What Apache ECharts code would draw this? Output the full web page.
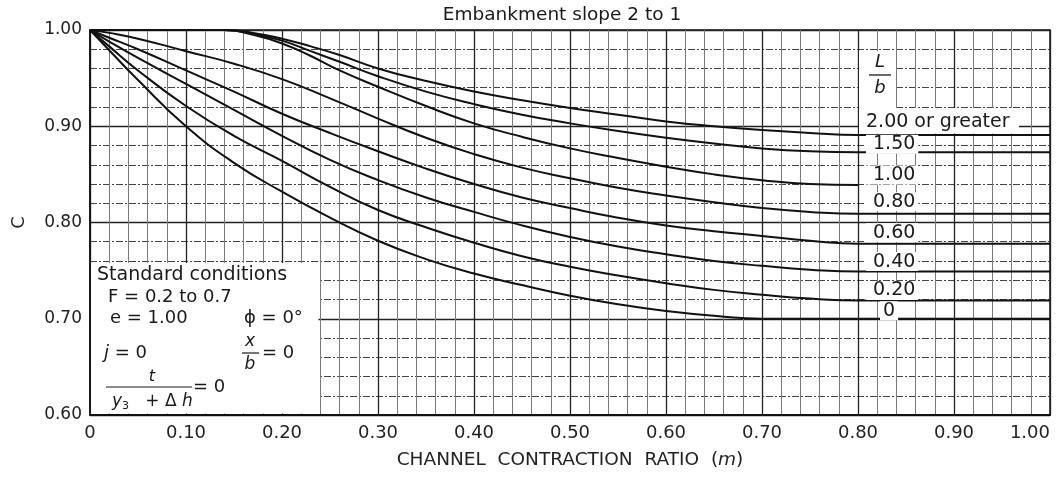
<!DOCTYPE html>
<html><head><meta charset="utf-8">
<script src="https://cdn.jsdelivr.net/npm/echarts@6/dist/echarts.min.js"></script>
<style>html,body{margin:0;padding:0;background:#fff}#c{width:1062px;height:478px}</style>
</head><body><div id="c"></div>
<script>
// ---- data ----
const mLower = [0, 0.02, 0.05, 0.1, 0.15, 0.2, 0.25, 0.3, 0.35, 0.4, 0.45, 0.5, 0.55, 0.6, 0.65, 0.7, 0.75, 0.8, 1.0];
const mUpper = [0, 0.14, 0.17, 0.2, 0.23, 0.26, 0.3, 0.35, 0.4, 0.45, 0.5, 0.55, 0.6, 0.65, 0.7, 0.75, 0.8, 1.0];
const c200 = [1, 1, 0.997, 0.991, 0.983, 0.974, 0.960, 0.947, 0.936, 0.927, 0.919, 0.912, 0.905, 0.900, 0.896, 0.893, 0.891, 0.891];
const c150 = [1, 1, 0.996, 0.989, 0.978, 0.967, 0.952, 0.936, 0.923, 0.912, 0.903, 0.895, 0.888, 0.882, 0.877, 0.874, 0.873, 0.873];
const c100 = [1, 1, 0.995, 0.986, 0.973, 0.958, 0.941, 0.921, 0.903, 0.889, 0.877, 0.867, 0.858, 0.850, 0.844, 0.840, 0.839, null];
const c080 = [1, 0.997, 0.991, 0.978, 0.965, 0.949, 0.929, 0.908, 0.888, 0.871, 0.857, 0.846, 0.836, 0.828, 0.821, 0.815, 0.811, 0.809, 0.809];
const c060 = [1, 0.992, 0.980, 0.958, 0.936, 0.913, 0.893, 0.874, 0.856, 0.840, 0.826, 0.815, 0.805, 0.797, 0.791, 0.786, 0.781, 0.778, 0.778];
const c040 = [1, 0.988, 0.971, 0.944, 0.917, 0.890, 0.865, 0.844, 0.826, 0.811, 0.797, 0.785, 0.775, 0.767, 0.760, 0.755, 0.751, 0.749, 0.749];
const c020 = [1, 0.983, 0.958, 0.921, 0.890, 0.864, 0.837, 0.813, 0.795, 0.779, 0.765, 0.754, 0.745, 0.737, 0.730, 0.725, 0.721, 0.719, 0.719];
const c000 = [1, 0.979, 0.948, 0.900, 0.862, 0.832, 0.805, 0.781, 0.762, 0.747, 0.735, 0.724, 0.715, 0.708, 0.703, 0.700, 0.700, 0.700, 0.700];
const curveNames = ['2.00 or greater', '1.50', '1.00', '0.80', '0.60', '0.40', '0.20', '0'];
const curveX = [mUpper, mUpper, mUpper, mLower, mLower, mLower, mLower, mLower];
const curveY = [c200, c150, c100, c080, c060, c040, c020, c000];
const yTicks = { min: 0.6, max: 1.0, step: 0.1 };
const xTicks = { min: 0, max: 1.0, step: 0.1 };
const titleText = 'Embankment slope 2 to 1';
const xNameMain = 'CHANNEL  CONTRACTION  RATIO  (';
const xNameVar = 'm';
const yName = 'C';

// ---- layout / style ----
const FONT = 'DejaVu Sans';
const labelOffsets = [13, 8, 10, 12, 11, 10, 10, 8];

const series = curveY.map((ys, k) => ({
  type: 'line',
  name: curveNames[k],
  data: curveX[k].map((x, i) => [x, ys[i]]).filter(p => p[1] !== null),
  smooth: 0.5,
  symbol: 'none',
  lineStyle: { color: '#111', width: 2 },
  z: 3,
  silent: true
}));

const option = {
  animation: false,
  backgroundColor: '#fff',
  grid: { left: 90, right: 12, top: 30, bottom: 63, show: true, borderColor: '#111', borderWidth: 1.5 },
  xAxis: {
    type: 'value', min: xTicks.min, max: xTicks.max, interval: xTicks.step,
    name: '{n|' + xNameMain + '}{it|' + xNameVar + '}{n|)}', nameLocation: 'middle', nameGap: 36,
    nameTextStyle: { rich: { n: { fontFamily: FONT, fontSize: 18.5, color: '#222' },
                             it: { fontFamily: FONT, fontSize: 18.5, fontStyle: 'italic', color: '#222' } } },
    axisLine: { show: true, lineStyle: { color: '#111', width: 2 } },
    axisTick: { show: false },
    minorTick: { show: false, splitNumber: 5 },
    axisLabel: { fontFamily: FONT, fontSize: 18, color: '#222', margin: 9, alignMaxLabel: 'right',
      formatter: v => (v === 0 ? '0' : v.toFixed(2)) },
    splitLine: { show: true, lineStyle: { color: '#222', width: 1.3 } },
    minorSplitLine: { show: true, lineStyle: { color: '#7a7a7a', width: 1 } }
  },
  yAxis: {
    type: 'value', min: yTicks.min, max: yTicks.max, interval: yTicks.step,
    name: yName, nameLocation: 'middle', nameGap: 62, nameRotate: 90,
    nameTextStyle: { fontFamily: FONT, fontSize: 18, color: '#222' },
    axisLine: { show: true, lineStyle: { color: '#111', width: 1.5 } },
    axisTick: { show: false },
    minorTick: { show: false, splitNumber: 5 },
    axisLabel: { fontFamily: FONT, fontSize: 17, color: '#222', margin: 8, formatter: v => v.toFixed(2) },
    splitLine: { show: true, lineStyle: { color: '#222', width: 1.3 } },
    minorSplitLine: { show: true, lineStyle: { color: '#444', width: 1, type: [7, 2, 2, 2] } }
  },
  series: series
};

const chart = echarts.init(document.getElementById('c'), null, { renderer: 'canvas' });
chart.setOption(option);

const P = (x, y) => chart.convertToPixel({ gridIndex: 0 }, [x, y]);
const g = [];
const txt = (x, y, text, opt) => g.push({
  type: 'text', x: x, y: y, z: 5,
  style: Object.assign({ text: text, fill: '#1a1a1a', font: '17px "' + FONT + '"', align: 'left', verticalAlign: 'middle' }, opt || {})
});

// title
txt(562, 15, titleText, { align: 'center', font: '18.5px "' + FONT + '"' });

// L/b box
const x08 = P(0.8, 1)[0];
const x084 = P(0.84, 1)[0];
g.push({ type: 'rect', z: 4, shape: { x: x08 + 1, y: P(0, 0.98)[1] + 2, width: x084 - x08 - 2, height: P(0, 0.92)[1] - P(0, 0.98)[1] - 1 }, style: { fill: '#fff' } });
txt(x08 + 22, 62, 'L', { align: 'center', font: 'italic 18px "' + FONT + '"' });
g.push({ type: 'line', z: 5, shape: { x1: x08 + 11, y1: 75, x2: x08 + 33, y2: 75 }, style: { stroke: '#1a1a1a', lineWidth: 1.3 } });
txt(x08 + 22, 88, 'b', { align: 'center', font: 'italic 18px "' + FONT + '"' });

// white box behind "2.00 or greater"
const yTop200 = P(0, 0.92)[1] + 1;
const yLine200 = P(0, c200[c200.length - 1])[1];
g.push({ type: 'rect', z: 4, shape: { x: x08 + 1, y: yTop200, width: 160, height: yLine200 - yTop200 - 1.5 }, style: { fill: '#fff' } });

// curve labels
curveNames.forEach((name, k) => {
  const ys = curveY[k];
  const lastVal = ys.filter(v => v !== null).slice(-1)[0];
  const py = P(0.8, lastVal)[1] - labelOffsets[k];
  const isZero = name === '0';
  txt(isZero ? x08 + 22 : x08 + 8, py, name, {
    font: '19px "' + FONT + '"',
    backgroundColor: k === 0 ? null : '#fff',
    padding: k === 0 ? 0 : [0, 3, 0, isZero ? 3 : 7]
  });
});

// Standard conditions box
const bl = P(0, 0.6);
const boxRight = P(0.238, 0.6)[0];
const boxTop = 263;
g.push({ type: 'rect', z: 4, shape: { x: bl[0] + 1, y: boxTop, width: boxRight - bl[0] - 1, height: bl[1] - boxTop - 1.5 }, style: { fill: '#fff' } });
txt(97, 275, 'Standard conditions', { font: '19px "' + FONT + '"' });
txt(108, 297, 'F = 0.2 to 0.7', { font: '18px "' + FONT + '"' });
txt(110, 318, 'e = 1.00', { font: '18px "' + FONT + '"' });
txt(244, 318, 'ϕ = 0°', { font: '18px "' + FONT + '"' });
txt(104, 353, '{i|j} = 0', { font: '18px "' + FONT + '"', rich: { i: { fontStyle: 'italic', fontFamily: FONT, fontSize: 18 } } });
txt(250, 342, 'x', { align: 'center', font: 'italic 17px "' + FONT + '"' });
g.push({ type: 'line', z: 5, shape: { x1: 242, y1: 353, x2: 259, y2: 353 }, style: { stroke: '#1a1a1a', lineWidth: 1.2 } });
txt(250, 365, 'b', { align: 'center', font: 'italic 17px "' + FONT + '"' });
txt(262, 353, '= 0', { font: '18px "' + FONT + '"' });
txt(152, 377, 't', { align: 'center', font: 'italic 16px "' + FONT + '"' });
g.push({ type: 'line', z: 5, shape: { x1: 106, y1: 387, x2: 192, y2: 387 }, style: { stroke: '#1a1a1a', lineWidth: 1.2 } });
txt(112, 402, '{i|y}{s|3}   + Δ {i|h}', { font: '17px "' + FONT + '"',
  rich: { i: { fontStyle: 'italic', fontFamily: FONT, fontSize: 17 }, s: { fontFamily: FONT, fontSize: 11, verticalAlign: 'bottom', padding: [8, 0, 0, 0] } } });
txt(193, 387, '= 0', { font: '18px "' + FONT + '"' });

chart.setOption({ graphic: { elements: g } });
</script>
</body></html>
